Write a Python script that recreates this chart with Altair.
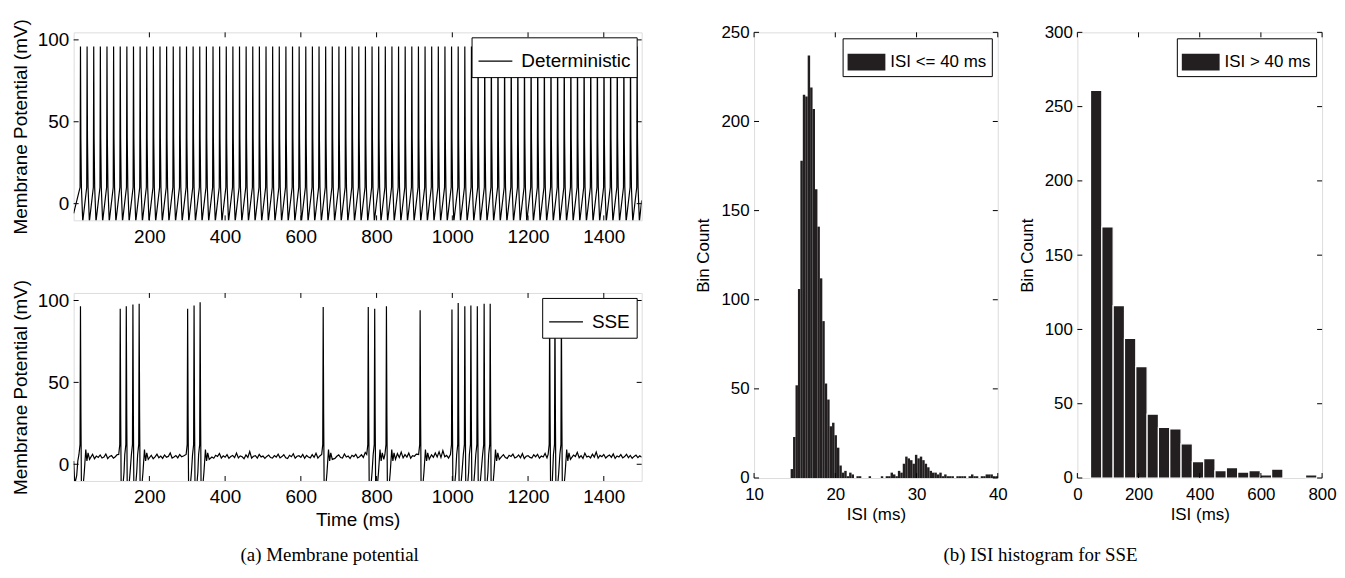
import altair as alt
import pandas as pd

FONT = "Liberation Sans"
SERIF = "Liberation Serif"
INK = "#231f20"

# ---------------- membrane potential traces ----------------
t_ticks = [200, 400, 600, 800, 1000, 1200, 1400]
v_ticks = [0, 50, 100]
t_domain = [0, 1500]
v_domain = [-10.2, 104.6]

det_spike_times = [18, 35.5, 53, 70.5, 88, 105.5, 123, 140.5, 158, 175.5, 193, 210.5, 228, 245.5,
                   263, 280.5, 298, 315.5, 333, 350.5, 368, 385.5, 403, 420.5, 438, 455.5, 473,
                   490.5, 508, 525.5, 543, 560.5, 578, 595.5, 613, 630.5, 648, 665.5, 683, 700.5,
                   718, 735.5, 753, 770.5, 788, 805.5, 823, 840.5, 858, 875.5, 893, 910.5, 928,
                   945.5, 963, 980.5, 998, 1015.5, 1033, 1050.5, 1068, 1085.5, 1103, 1120.5, 1138,
                   1155.5, 1173, 1190.5, 1208, 1225.5, 1243, 1260.5, 1278, 1295.5, 1313, 1330.5,
                   1348, 1365.5, 1383, 1400.5, 1418, 1435.5, 1453, 1470.5, 1488]
det_peak = 96
det_pre_dt = [-1.0]
det_pre_v = [10]
det_post_dt = [1.0, 2.5, 6.0]
det_post_v = [40, 10, -11]
det_head = [(0, -6)]
det_tail = [(1500, 2)]

sse_spike_times = [18, 123, 139, 156.5, 173, 301, 318, 334, 659, 778, 795, 826, 915,
                   999, 1015.5, 1033, 1049, 1066, 1084, 1100, 1257, 1271, 1288]
sse_spike_peaks = [96.5, 95, 96.5, 97.5, 98, 95, 97, 99, 96, 96, 95, 96.5, 94,
                   94.5, 98.5, 96.5, 97, 96.5, 98, 98, 96, 96, 96]
sse_pre_dt = [-4.0, -1.2]
sse_pre_v = [6, 12]
sse_post_dt = [1.2, 2.5, 6, 10, 14, 17, 20, 24]
sse_post_v = [30, -14, -16, -5, 9, 2, 7, 3]
sse_head = [(0, 2), (3, -12), (8, -7), (11, 2)]
sse_base_step = 5
sse_base_v = [
    4.5, 3.2, 5.8, 4.1, 5.2, 3.6, 4.9, 5.5, 3.9, 4.6, 6.1, 3.4, 5.0, 4.2, 5.7, 3.8, 4.4, 6.3, 3.5, 4.8,
    5.3, 3.7, 4.6, 5.9, 4.0, 3.3, 5.1, 4.4, 6.0, 3.6, 4.7, 5.4, 3.9, 5.6, 4.3, 3.5, 5.2, 4.8, 6.4, 3.7,
    4.9, 5.5, 3.4, 4.5, 6.2, 4.0, 5.0, 3.6, 5.7, 4.3, 4.8, 6.9, 3.8, 4.4, 5.3, 3.9, 6.0, 4.6, 5.1, 3.5,
    5.4, 4.1, 6.3, 3.7, 4.9, 5.6, 4.2, 3.6, 5.8, 4.5, 5.0, 3.9, 6.1, 4.4, 3.7, 5.5, 4.8, 6.6, 3.8, 5.2,
    4.3, 5.9, 3.6, 4.7, 5.4, 4.0, 6.8, 3.9, 5.1, 4.6, 3.4, 5.7, 4.2, 7.8, 3.8, 4.9, 5.3, 3.7, 6.0, 4.5,
    5.0, 3.6, 4.8, 5.6, 4.1, 3.8, 5.3, 4.4, 6.2, 3.9, 4.7, 5.8, 4.0, 3.5, 5.5, 4.6, 6.4, 3.7, 4.9, 5.2,
    4.2, 6.0, 3.6, 5.4, 4.5, 3.9, 5.9, 4.3, 6.7, 3.8, 5.1, 4.6, 3.7, 5.6, 4.8, 6.9, 4.0, 5.3, 3.6, 4.9,
    5.7, 4.1, 3.8, 6.3, 4.4, 5.0, 3.5, 5.5, 4.7, 6.1, 3.9, 4.6, 5.8, 4.2, 7.2, 3.7, 5.2, 4.5, 6.0, 3.6,
    4.8, 5.4, 3.9, 8.1, 4.3, 5.6, 3.6, 7.0, 4.6, 5.1, 3.8, 6.5, 4.2, 7.4, 3.9, 5.9, 4.4, 6.8, 3.7, 5.3,
    4.9, 6.2, 4.0, 5.5, 3.6, 6.6, 4.7, 7.1, 3.9, 5.8, 4.3, 6.9, 4.5, 7.6, 4.1, 8.3, 4.6, 5.4, 3.8, 6.0,
    4.4, 5.7, 3.7, 6.3, 4.8, 5.1, 3.9, 5.9, 4.2, 6.4, 3.6, 5.3, 4.6, 6.1, 4.0, 5.6, 3.8, 4.9, 5.8, 4.3,
    5.2, 3.7, 6.0, 4.5, 5.4, 3.9, 4.7, 5.9, 4.1, 3.6, 5.5, 4.8, 6.2, 3.8, 4.4, 5.7, 4.0, 6.5, 3.5, 4.9,
    5.3, 4.2, 3.8, 5.8, 4.6, 6.1, 3.7, 5.0, 4.4, 6.6, 3.9, 5.5, 4.1, 4.8, 6.0, 3.6, 5.2, 4.5, 6.3, 3.9,
    5.1, 4.3, 6.4, 3.8, 5.6, 4.7, 7.3, 4.0, 5.3, 3.6, 6.8, 4.5, 5.0, 3.9, 6.2, 4.4, 7.5, 3.7, 5.4, 4.6,
    6.0, 3.8, 4.9, 5.7, 4.2, 6.3, 3.6, 5.1, 4.5, 5.9, 3.9, 4.7, 6.1, 4.0, 5.4, 3.7, 4.8, 5.6, 4.1, 5.2,
    4.3]

# ---------------- ISI histograms ----------------
hist1_start = 10.0
hist1_width = 0.3
hist1_counts = [
    0, 0, 0, 0, 0, 0, 0, 0, 0, 0, 0, 0, 0, 0, 0, 5, 23, 52, 106, 178,
    215, 214, 237, 219, 207, 162, 141, 112, 88, 53, 44, 29, 31, 24, 17, 7, 3, 4, 1, 3,
    2, 0, 1, 1, 0, 0, 0, 1, 0, 0, 0, 0, 1, 0, 1, 1, 3, 2, 1, 4,
    3, 8, 12, 11, 10, 8, 13, 11, 12, 10, 8, 6, 4, 3, 3, 2, 3, 1, 2, 1,
    1, 1, 0, 1, 1, 1, 1, 0, 1, 2, 1, 1, 0, 1, 1, 2, 2, 2, 1, 1]
hist1_xticks = [10, 20, 30, 40]
hist1_yticks = [0, 50, 100, 150, 200, 250]

hist2_start = 43.0
hist2_width = 37.0
hist2_counts = [261, 169, 116, 94, 75, 43, 34, 33, 23, 11, 13, 5, 7, 4, 5, 2, 6, 0, 0, 2]
hist2_xticks = [0, 200, 400, 600, 800]
hist2_yticks = [0, 50, 100, 150, 200, 250, 300]


# ---------------- build tables ----------------
def det_trace():
    pts = list(det_head)
    for s in det_spike_times:
        for dt, v in zip(det_pre_dt, det_pre_v):
            pts.append((s + dt, v))
        pts.append((s, det_peak))
        for dt, v in zip(det_post_dt, det_post_v):
            pts.append((s + dt, v))
    pts += det_tail
    df = pd.DataFrame(pts, columns=["x", "y"]).sort_values("x")
    df["series"] = "Deterministic"
    return df


def sse_trace():
    pts = list(sse_head)
    n = len(sse_spike_times)
    for i, s in enumerate(sse_spike_times):
        nxt = sse_spike_times[i + 1] if i + 1 < n else 1e9
        for dt, v in zip(sse_pre_dt, sse_pre_v):
            pts.append((s + dt, v))
        pts.append((s, sse_spike_peaks[i]))
        for dt, v in zip(sse_post_dt, sse_post_v):
            if s + dt < nxt + sse_pre_dt[0] - 1:
                pts.append((s + dt, v))
    for k, v in enumerate(sse_base_v):
        t = k * sse_base_step
        if t < 13:
            continue
        if any(s - 6 <= t <= s + 27 for s in sse_spike_times):
            continue
        pts.append((t, v))
    df = pd.DataFrame(pts, columns=["x", "y"]).sort_values("x")
    df["series"] = "SSE"
    return df


def hist_table(start, width, counts, name):
    rows = []
    for k, c in enumerate(counts):
        if c > 0:
            x0 = start + k * width
            rows.append({"x": x0, "x2": x0 + width, "y": c, "y0": 0, "series": name})
    return pd.DataFrame(rows)


# ---------------- chart helpers ----------------
def axis(values, title, labels_fs, title_fs, title_pad, label_pad):
    return alt.Axis(values=values, title=title, ticks=False, domain=False, grid=False,
                    format="d", labelFont=FONT, labelFontSize=labels_fs, labelColor="black",
                    labelPadding=label_pad, titleFont=FONT, titleFontSize=title_fs,
                    titleFontWeight="normal", titleColor="black", titlePadding=title_pad,
                    labelFlush=False, labelOverlap=False)


def tick_layers(xs, ys, xenc, yenc, W, H, L=5):
    dfx = pd.DataFrame({"x": xs})
    dfy = pd.DataFrame({"y": ys})
    base_x = alt.Chart(dfx).mark_rule(color="black", strokeWidth=1)
    base_y = alt.Chart(dfy).mark_rule(color="black", strokeWidth=1)
    return [
        base_x.encode(x=xenc, y=alt.value(H - L), y2=alt.value(H)),
        base_x.encode(x=xenc, y=alt.value(0), y2=alt.value(L)),
        base_y.encode(y=yenc, x=alt.value(0), x2=alt.value(L)),
        base_y.encode(y=yenc, x=alt.value(W - L), x2=alt.value(W)),
    ]


LW, LH = 571, 189


def trace_panel(df, name, xtitle):
    xenc = alt.X("x:Q", scale=alt.Scale(domain=t_domain, nice=False, zero=False),
                 axis=axis(t_ticks, xtitle, 19, 19, 4, 7))
    yenc = alt.Y("y:Q", scale=alt.Scale(domain=v_domain, nice=False, zero=False),
                 axis=axis(v_ticks, "Membrane Potential (mV)", 19, 19, 7, 5))
    line = alt.Chart(df).mark_line(clip=True, strokeWidth=1.2, interpolate="linear").encode(
        x=xenc, y=yenc,
        color=alt.Color("series:N", scale=alt.Scale(domain=[name], range=["black"]),
                        legend=alt.Legend(orient="top-right", title=None, offset=5, padding=6,
                                          strokeColor="black", fillColor="white",
                                          labelFont=FONT, labelFontSize=19, labelColor="black",
                                          labelOffset=8, symbolType="stroke", symbolSize=1156,
                                          symbolStrokeWidth=1.2, labelLimit=0)))
    return alt.layer(line, *tick_layers(t_ticks, v_ticks, xenc, yenc, LW, LH)).properties(
        width=LW, height=LH)


HH = 448


def hist_panel(df, name, W, xdomain, xticks, yticks, ydomain, stroke, stroke_w):
    xenc = alt.X("x:Q", scale=alt.Scale(domain=xdomain, nice=False, zero=False),
                 axis=axis(xticks, "ISI (ms)", 17, 17, 4, 9))
    yenc = alt.Y("y:Q", scale=alt.Scale(domain=ydomain, nice=False),
                 axis=axis(yticks, "Bin Count", 17, 17, 8, 5))
    bars = alt.Chart(df).mark_rect(stroke=stroke, strokeWidth=stroke_w).encode(
        x=xenc, x2="x2:Q", y=yenc, y2="y0:Q",
        color=alt.Color("series:N", scale=alt.Scale(domain=[name], range=[INK]),
                        legend=alt.Legend(orient="top-right", title=None, offset=6, padding=5,
                                          strokeColor="black", fillColor="white",
                                          labelFont=FONT, labelFontSize=17, labelColor="black",
                                          labelOffset=5, symbolType="M-1,-0.44H1V0.44H-1Z",
                                          symbolSize=1444, symbolStrokeWidth=0,
                                          labelLimit=0)))
    return alt.layer(bars, *tick_layers(xticks, yticks, xenc, yenc, W, HH)).properties(
        width=W, height=HH)


top = trace_panel(det_trace(), "Deterministic", None)
bottom = trace_panel(sse_trace(), "SSE", "Time (ms)")

left = alt.vconcat(top, bottom, spacing=31).resolve_scale(color="independent").properties(
    title=alt.TitleParams("(a) Membrane potential", orient="bottom", anchor="middle",
                          font=SERIF, fontSize=19, fontWeight="normal", color="black",
                          offset=16, dx=3))

h1 = hist_panel(hist_table(hist1_start, hist1_width, hist1_counts, "ISI <= 40 ms"),
                "ISI <= 40 ms", 245, [10, 40], hist1_xticks, hist1_yticks, [0, 250], INK, 0)
h2 = hist_panel(hist_table(hist2_start, hist2_width, hist2_counts, "ISI > 40 ms"),
                "ISI > 40 ms", 246, [0, 800], hist2_xticks, hist2_yticks, [0, 300], "white", 1.2)

right = alt.hconcat(h1, h2, spacing=10).resolve_scale(color="independent").properties(
    title=alt.TitleParams("(b) ISI histogram for SSE", orient="bottom", anchor="middle",
                          font=SERIF, fontSize=19, fontWeight="normal", color="black",
                          offset=23, dx=25))

chart = alt.hconcat(left, right, spacing=52).resolve_scale(color="independent").properties(
    padding={"left": 2, "top": 8, "right": 0, "bottom": 0}
).configure_view(stroke="black", strokeWidth=1).configure(background="white")

chart.save("out.html", embed_options={"renderer": "svg", "actions": False})
